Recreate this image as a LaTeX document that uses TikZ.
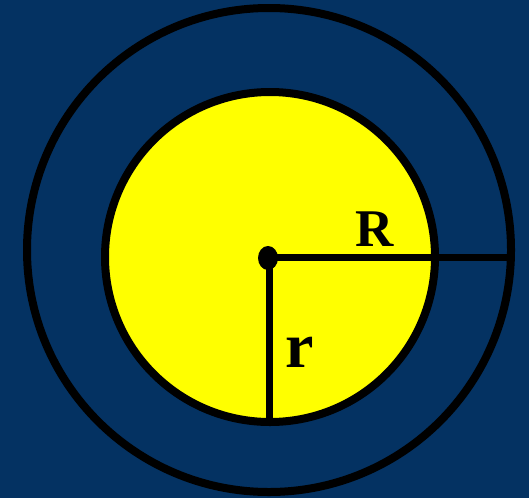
\documentclass[tikz,border=0pt]{standalone}
\usepackage{fontspec}
\setmainfont{Liberation Serif}
\definecolor{bgblue}{RGB}{4,50,98}
\definecolor{disk}{RGB}{255,255,0}
\begin{document}
\begin{tikzpicture}[x=1pt,y=-1pt,
  ring/.style={draw=black,line width=8pt},
  radius line/.style={draw=black,line width=7pt},
  lbl/.style={font=\bfseries,text=black,inner sep=0pt}]
\fill[bgblue] (0,0) rectangle (529,498);
\useasboundingbox (0,0) rectangle (529,498);
\coordinate (oc) at (269,250);
\coordinate (ic) at (270,257);
\coordinate (c) at (269,257);
\coordinate (rend) at (508,257);
\coordinate (bend) at (269,423);
\draw[ring] (oc) circle[radius=242];
\draw[ring,fill=disk] (ic) circle[radius=165];
\draw[radius line] (c) -- (rend);
\draw[radius line] (c) -- (bend);
\fill[black] (268,258) ellipse[x radius=10,y radius=12];
\node[lbl,font=\fontsize{53}{60}\selectfont\bfseries] (R) at (375,229) {R};
\node[lbl,font=\fontsize{64}{70}\selectfont\bfseries] (r) at (300,352) {r};
\end{tikzpicture}
\end{document}
